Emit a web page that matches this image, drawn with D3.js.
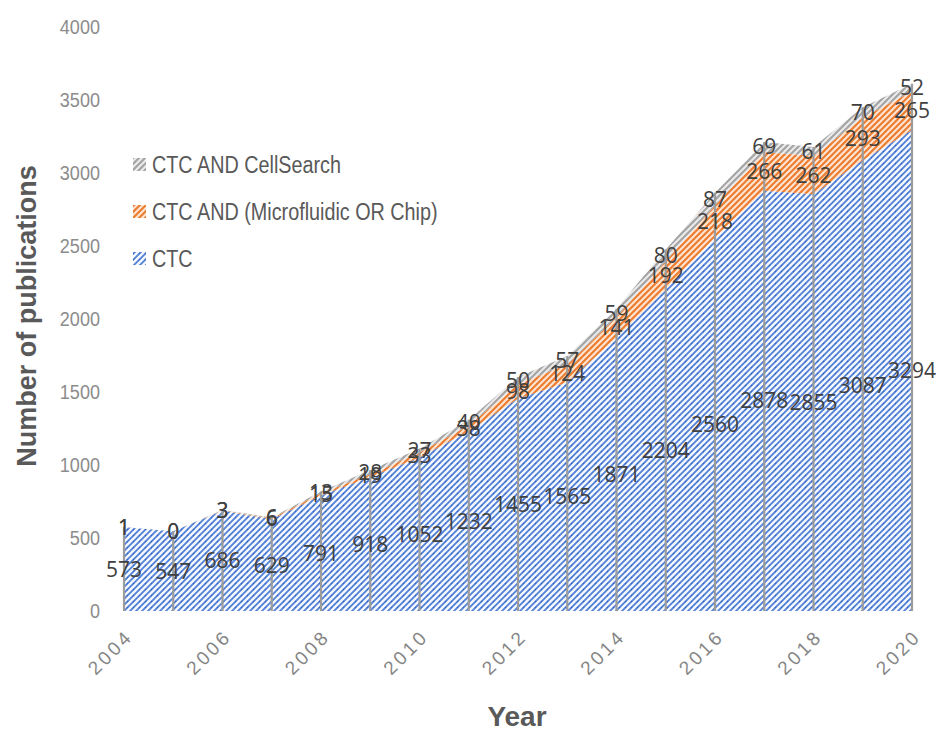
<!DOCTYPE html>
<html>
<head>
<meta charset="utf-8">
<script src="https://cdn.jsdelivr.net/npm/d3@7"></script>
<style>
  html, body { margin: 0; padding: 0; background: #fff; }
  svg { display: block; }
</style>
</head>
<body>
<svg id="chart" width="937" height="731"></svg>
<script>
const years = [2004,2005,2006,2007,2008,2009,2010,2011,2012,2013,2014,2015,2016,2017,2018,2019,2020];
const ctc = [573,547,686,629,791,918,1052,1232,1455,1565,1871,2204,2560,2878,2855,3087,3294];
const microfluidic = [1,0,3,6,15,19,33,38,98,124,141,192,218,266,262,293,265];
const cellsearch = [1,0,3,6,13,28,27,40,50,57,59,80,87,69,61,70,52];
const seriesNames = ["CTC", "CTC AND (Microfluidic OR Chip)", "CTC AND CellSearch"];
const yTicks = [0,500,1000,1500,2000,2500,3000,3500,4000];
const xTickYears = [2004,2006,2008,2010,2012,2014,2016,2018,2020];

const FONT = "Liberation Sans, Arial, sans-serif";
const svg = d3.select("#chart");
const M = { left: 124, right: 912, top: 27, bottom: 611 };

const x = d3.scaleLinear().domain([2004, 2020]).range([M.left, M.right]);
const y = d3.scaleLinear().domain([0, 4000]).range([M.bottom, M.top]);

// patterns
const defs = svg.append("defs");
function hatch(id, bg, stripe, sw, dot) {
  const p = defs.append("pattern").attr("id", id).attr("patternUnits", "userSpaceOnUse")
    .attr("width", 6).attr("height", 6);
  p.append("rect").attr("width", 6).attr("height", 6).attr("fill", bg);
  p.append("path").attr("d", "M-1,7 L7,-1 M-4,4 L4,-4 M2,10 L10,2")
    .attr("stroke", stripe).attr("stroke-width", sw);
  if (dot) p.append("circle").attr("cx", 1.5).attr("cy", 1.5).attr("r", 0.7).attr("fill", dot);
}
hatch("pBlue", "#4f7fd6", "#f4f7fd", 2.5, "#3563c4");
hatch("pOrange", "#ed7d31", "#fde6d4", 2.0, null);
hatch("pGray", "#a5a5a5", "#ececec", 2.0, null);

const data = years.map((yr, i) => ({ year: yr, ctc: ctc[i], micro: microfluidic[i], cell: cellsearch[i] }));
const stack = d3.stack().keys(["ctc", "micro", "cell"]);
const stacked = stack(data);
const fills = ["url(#pBlue)", "url(#pOrange)", "url(#pGray)"];

const area = d3.area()
  .x((d, i) => x(years[i]))
  .y0(d => y(d[0]))
  .y1(d => y(d[1]));

svg.append("g").selectAll("path").data(stacked).join("path")
  .attr("d", area)
  .attr("fill", (d, i) => fills[i]);

// drop lines
svg.append("g").selectAll("line").data(data).join("line")
  .attr("x1", d => x(d.year)).attr("x2", d => x(d.year))
  .attr("y1", y(0)).attr("y2", d => y(d.ctc + d.micro + d.cell))
  .attr("stroke", "#9c9c9c").attr("stroke-width", 2.2);

// y axis
const yAxis = d3.axisLeft(y).tickValues(yTicks).tickFormat(d3.format("d")).tickSize(0).tickPadding(0);
const gy = svg.append("g").attr("transform", `translate(100,0)`).call(yAxis);
gy.select(".domain").remove();
gy.attr("font-family", FONT).attr("font-size", 21);
gy.selectAll("text").attr("fill", "#8c8c8c").attr("transform", "scale(0.86,1)");

// x axis
const xAxis = d3.axisBottom(x).tickValues(xTickYears).tickFormat(d3.format("d")).tickSize(0).tickPadding(0);
const gx = svg.append("g").attr("transform", `translate(0,${M.bottom})`).call(xAxis);
gx.select(".domain").remove();
gx.attr("font-family", FONT).attr("font-size", 19);
gx.selectAll("text")
  .attr("fill", "#858585")
  .attr("letter-spacing", 3)
  .attr("text-anchor", "end")
  .attr("dy", "0.35em").attr("y", 0)
  .attr("transform", "translate(5,22) rotate(-45)");

// data labels
const labelG = svg.append("g").attr("font-family", "Open Sans, Liberation Sans, sans-serif")
  .attr("font-size", 21).attr("fill", "#404040").attr("text-anchor", "middle");
stacked.forEach((s) => {
  labelG.selectAll(null).data(s).join("text")
    .attr("x", (d, i) => x(years[i]))
    .attr("y", d => y((d[0] + d[1]) / 2))
    .attr("dy", "0.36em")
    .text(d => d[1] - d[0]);
});

// legend
const legendItems = [
  { name: seriesNames[2], fill: "url(#pGray)" },
  { name: seriesNames[1], fill: "url(#pOrange)" },
  { name: seriesNames[0], fill: "url(#pBlue)" }
];
const lg = svg.append("g");
legendItems.forEach((it, i) => {
  const cy = 165 + i * 47;
  lg.append("rect").attr("x", 133).attr("y", cy - 7).attr("width", 13).attr("height", 13).attr("fill", it.fill);
  lg.append("text").attr("transform", `translate(152,${cy}) scale(0.86,1)`).attr("dy", "0.36em")
    .attr("font-family", FONT).attr("font-size", 23).attr("fill", "#595959").text(it.name);
});

// axis titles
svg.append("text").attr("x", 517).attr("y", 726)
  .attr("text-anchor", "middle").attr("font-family", FONT).attr("font-size", 28).attr("font-weight", "bold").attr("fill", "#595959")
  .text("Year");
svg.append("text").attr("transform", "translate(36,316) rotate(-90)")
  .attr("text-anchor", "middle").attr("font-family", FONT).attr("font-size", 27).attr("font-weight", "bold").attr("fill", "#595959")
  .text("Number of publications");
</script>
</body>
</html>
